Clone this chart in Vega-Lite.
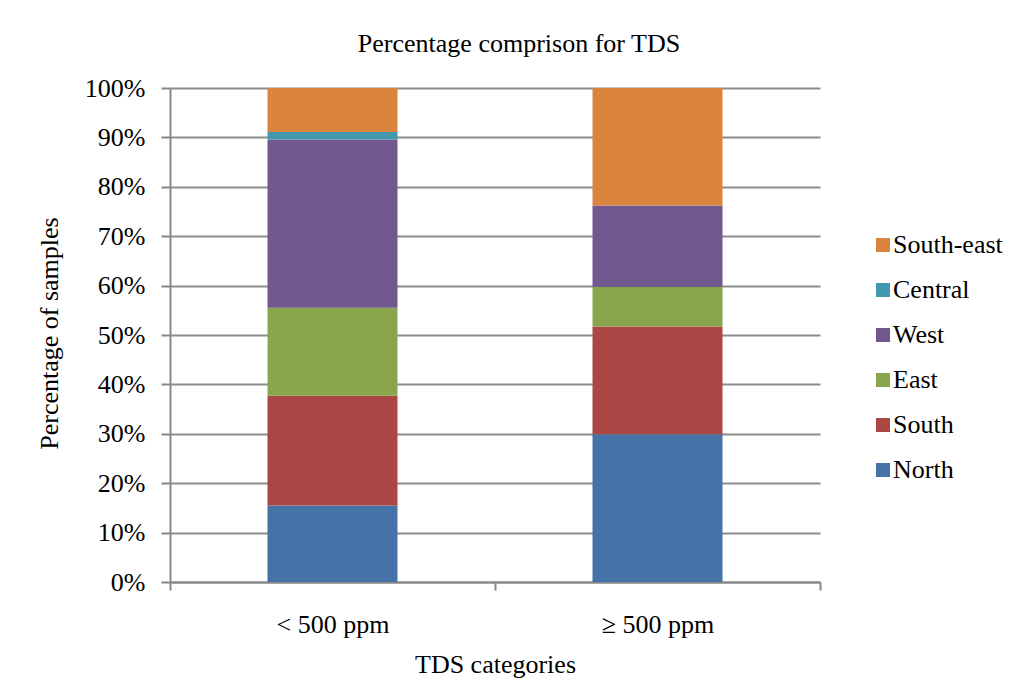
{
  "$schema": "https://vega.github.io/schema/vega-lite/v6.json",
  "autosize": {"type": "none"},
  "width": 650,
  "height": 494,
  "padding": {"left": 170, "top": 88, "right": 199, "bottom": 118},
  "background": "white",
  "title": {
    "text": "Percentage comprison for TDS",
    "font": "Liberation Serif",
    "fontSize": 26,
    "fontWeight": "normal",
    "color": "black",
    "anchor": "middle",
    "baseline": "alphabetic",
    "offset": -3,
    "dx": 24
  },
  "data": {
    "values": [
      {"cat": "< 500 ppm", "region": "North", "ord": 1, "pct": 0.155},
      {"cat": "< 500 ppm", "region": "South", "ord": 2, "pct": 0.222},
      {"cat": "< 500 ppm", "region": "East", "ord": 3, "pct": 0.178},
      {"cat": "< 500 ppm", "region": "West", "ord": 4, "pct": 0.341},
      {"cat": "< 500 ppm", "region": "Central", "ord": 5, "pct": 0.015},
      {"cat": "< 500 ppm", "region": "South-east", "ord": 6, "pct": 0.089},
      {"cat": "≥ 500 ppm", "region": "North", "ord": 1, "pct": 0.299},
      {"cat": "≥ 500 ppm", "region": "South", "ord": 2, "pct": 0.218},
      {"cat": "≥ 500 ppm", "region": "East", "ord": 3, "pct": 0.080},
      {"cat": "≥ 500 ppm", "region": "West", "ord": 4, "pct": 0.165},
      {"cat": "≥ 500 ppm", "region": "Central", "ord": 5, "pct": 0.0},
      {"cat": "≥ 500 ppm", "region": "South-east", "ord": 6, "pct": 0.238}
    ]
  },
  "mark": {"type": "bar", "width": {"band": 0.4}},
  "encoding": {
    "x": {
      "field": "cat",
      "type": "nominal",
      "sort": ["< 500 ppm", "≥ 500 ppm"],
      "scale": {"paddingInner": 0, "paddingOuter": 0},
      "axis": {
        "title": "TDS categories",
        "labelAngle": 0,
        "labelFont": "Liberation Serif",
        "labelFontSize": 26,
        "labelColor": "black",
        "labelPadding": 21,
        "tickBand": "extent",
        "tickSize": 8,
        "tickColor": "#888888",
        "tickWidth": 2,
        "domainColor": "#888888",
        "domainWidth": 2,
        "grid": false,
        "titleFont": "Liberation Serif",
        "titleFontSize": 26,
        "titleFontWeight": "normal",
        "titleColor": "black",
        "titleBaseline": "alphabetic",
        "titleX": 325,
        "titleY": 90
      }
    },
    "y": {
      "field": "pct",
      "type": "quantitative",
      "stack": "zero",
      "scale": {"domain": [0, 1], "nice": false},
      "axis": {
        "title": "Percentage of samples",
        "values": [0, 0.1, 0.2, 0.3, 0.4, 0.5, 0.6, 0.7, 0.8, 0.9, 1],
        "format": ".0%",
        "labelFont": "Liberation Serif",
        "labelFontSize": 26,
        "labelColor": "black",
        "labelPadding": 16,
        "tickSize": 9,
        "tickColor": "#888888",
        "tickWidth": 2,
        "domainColor": "#888888",
        "domainWidth": 2,
        "grid": true,
        "gridColor": "#8c8c8c",
        "gridWidth": 2,
        "titleFont": "Liberation Serif",
        "titleFontSize": 26,
        "titleFontWeight": "normal",
        "titleColor": "black",
        "titleAngle": -90,
        "titleAlign": "center",
        "titleBaseline": "middle",
        "titleX": -121,
        "titleY": 245
      }
    },
    "color": {
      "field": "region",
      "type": "nominal",
      "scale": {
        "domain": ["South-east", "Central", "West", "East", "South", "North"],
        "range": ["#DB843D", "#4198AF", "#71588F", "#89A54E", "#AA4643", "#4572A7"]
      },
      "legend": {
        "title": null,
        "orient": "none",
        "legendX": 700,
        "legendY": 144,
        "padding": 0,
        "symbolType": "square",
        "symbolSize": 196,
        "symbolStrokeWidth": 0,
        "labelFont": "Liberation Serif",
        "labelFontSize": 26,
        "labelColor": "black",
        "labelOffset": -3,
        "rowPadding": 19
      }
    },
    "order": {"field": "ord", "type": "quantitative", "sort": "ascending"}
  },
  "config": {
    "view": {"stroke": null}
  }
}
